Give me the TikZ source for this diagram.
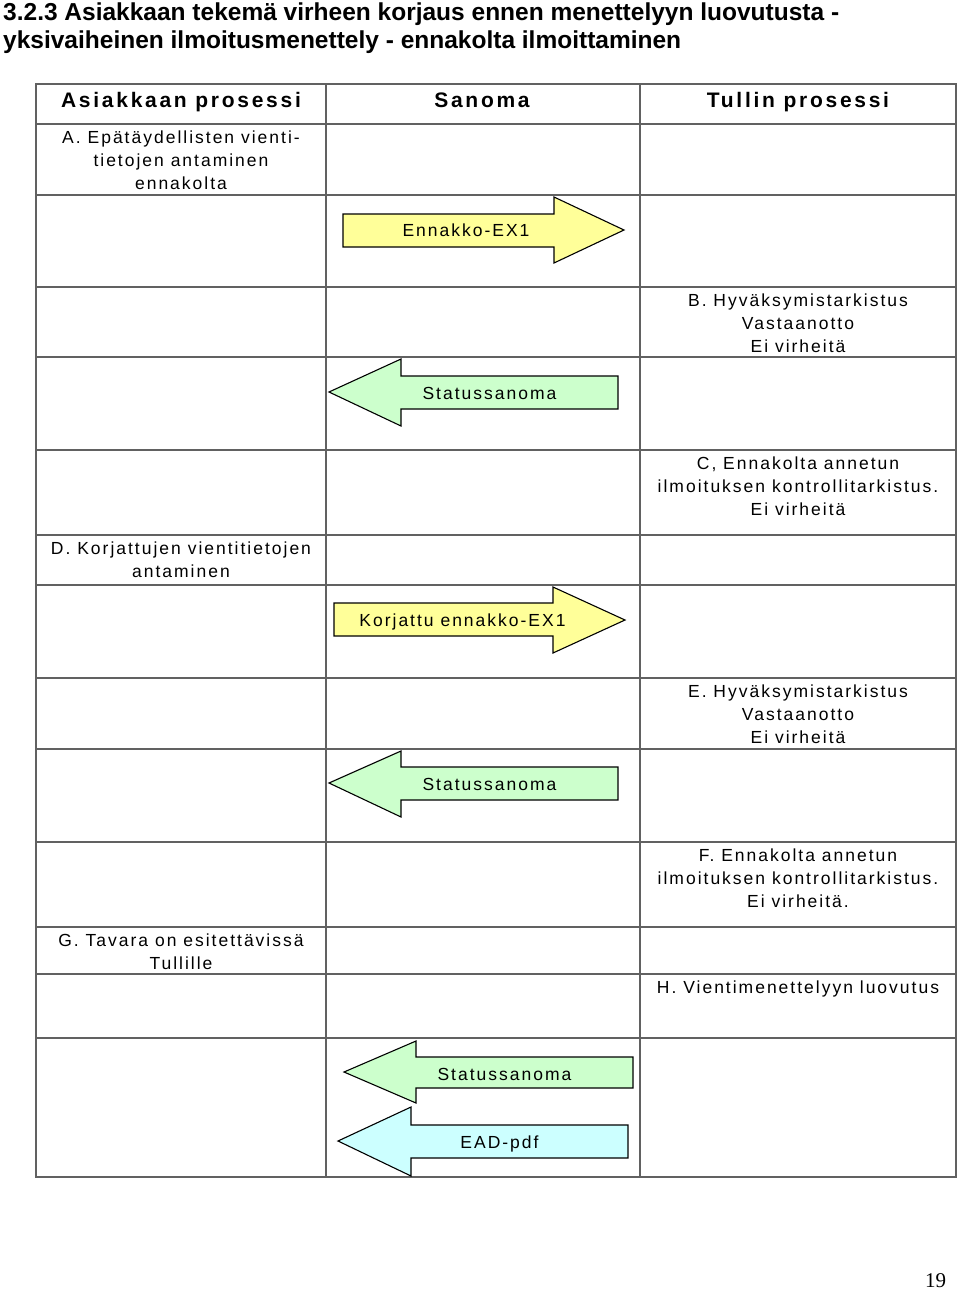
\documentclass[tikz,border=0pt]{standalone}
\usepackage{fontspec}
\setmainfont{Liberation Sans}
\newfontfamily\spaced[LetterSpace=11.4]{Liberation Sans}
\newfontfamily\headspaced[LetterSpace=13]{Liberation Sans}
\newfontfamily\pagefont{Liberation Serif}
\definecolor{msgyellow}{HTML}{FFFF99}
\definecolor{msggreen}{HTML}{CCFFCC}
\definecolor{msgcyan}{HTML}{CCFFFF}

\begin{document}
\begin{tikzpicture}[x=1pt,y=-1pt]
	\tikzset{grid_line/.style={line width=1.4pt, draw=black!62},
		cell/.style={align=center, inner sep=0pt, font=\spaced\fontsize{17.5}{23}\selectfont},
		head/.style={anchor=base, inner sep=0pt, font=\headspaced\bfseries\fontsize{21}{24}\selectfont},
		msg_text/.style={anchor=base, inner sep=0pt, font=\spaced\fontsize{17.5}{23}\selectfont},
		msg/.style={draw=black, line width=1.1pt, line join=miter}}
	\useasboundingbox (0,0) rectangle (960,1291);
	% title
	\node[anchor=base west, inner sep=0pt, font=\bfseries\fontsize{24.5}{28}\selectfont] (title1) at (3,20.5)
		{3.2.3 Asiakkaan tekemä virheen korjaus ennen menettelyyn luovutusta -};
	\node[anchor=base west, inner sep=0pt, font=\bfseries\fontsize{24.5}{28}\selectfont] (title2) at (3,48.5)
		{yksivaiheinen ilmoitusmenettely - ennakolta ilmoittaminen};
	% table
	\draw[grid_line] (36,84) rectangle (956,1177);
	\draw[grid_line] (326,84) -- (326,1177);
	\draw[grid_line] (640,84) -- (640,1177);
	\foreach \y in {124,195,287,357,450,535,585,678,749,842,927,974,1038}
		\draw[grid_line] (36,\y) -- (956,\y);
	% headers
	\node[head] (h_client) at (181,107.5) {Asiakkaan prosessi};
	\node[head] (h_msg) at (482,107.5) {Sanoma};
	\node[head] (h_customs) at (798,107.5) {Tullin prosessi};
	% steps
	\node[cell] (stepA) at (181,159.8) {A. Epätäydellisten vienti-\\tietojen antaminen\\ennakolta};
	\node[cell] (stepB) at (798,322.8) {B. Hyväksymistarkistus\\Vastaanotto\\Ei virheitä};
	\node[cell] (stepC) at (798,485.8) {C, Ennakolta annetun\\ilmoituksen kontrollitarkistus.\\Ei virheitä};
	\node[cell] (stepD) at (181,559.3) {D. Korjattujen vientitietojen\\antaminen};
	\node[cell] (stepE) at (798,713.8) {E. Hyväksymistarkistus\\Vastaanotto\\Ei virheitä};
	\node[cell] (stepF) at (798,877.8) {F. Ennakolta annetun\\ilmoituksen kontrollitarkistus.\\Ei virheitä.};
	\node[cell] (stepG) at (181,951.3) {G. Tavara on esitettävissä\\Tullille};
	\node[cell, anchor=base] (stepH) at (798,993) {H. Vientimenettelyyn luovutus};
	% messages
	\draw[msg, fill=msgyellow] (343,214) -- (554,214) -- (554,197) -- (624,230) -- (554,263) -- (554,247) -- (343,247) -- cycle;
	\node[msg_text] (m_adv) at (466,236) {Ennakko-EX1};
	\draw[msg, fill=msggreen] (618,376) -- (401,376) -- (401,359) -- (329,392) -- (401,426) -- (401,409) -- (618,409) -- cycle;
	\node[msg_text] (m_status1) at (489.5,399.3) {Statussanoma};
	\draw[msg, fill=msgyellow] (334,603) -- (553,603) -- (553,587) -- (625,620) -- (553,653) -- (553,636) -- (334,636) -- cycle;
	\node[msg_text] (m_fixed) at (462.5,626) {Korjattu ennakko-EX1};
	\draw[msg, fill=msggreen] (618,767) -- (401,767) -- (401,751) -- (329,783) -- (401,817) -- (401,800) -- (618,800) -- cycle;
	\node[msg_text] (m_status2) at (489.5,790) {Statussanoma};
	\draw[msg, fill=msggreen] (633,1057) -- (416,1057) -- (416,1041) -- (344,1072) -- (416,1103) -- (416,1088) -- (633,1088) -- cycle;
	\node[msg_text] (m_status3) at (504.5,1080.7) {Statussanoma};
	\draw[msg, fill=msgcyan] (628,1125) -- (411,1125) -- (411,1107) -- (338,1141) -- (411,1176) -- (411,1158) -- (628,1158) -- cycle;
	\node[msg_text] (m_ead) at (499.5,1148.7) {EAD-pdf};
	% page number
	\node[inner sep=0pt, font=\pagefont\fontsize{21}{24}\selectfont] (pageno) at (935.5,1281) {19};
\end{tikzpicture}
\end{document}
